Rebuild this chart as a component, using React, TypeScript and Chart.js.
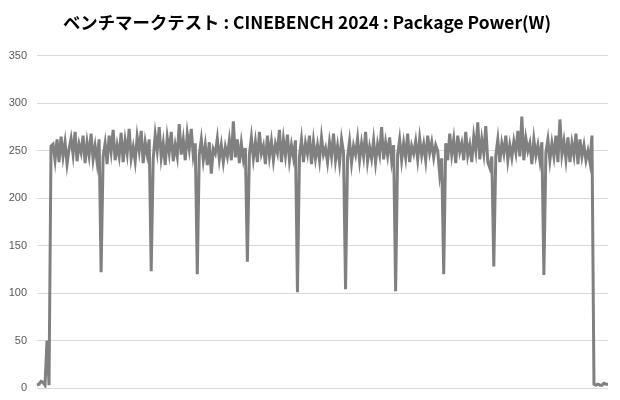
import React, { useEffect, useRef } from "react";
import { Chart, registerables } from "chart.js";

Chart.register(...registerables);

const chartTitle = "ベンチマークテスト : CINEBENCH 2024 : Package Power(W)";
const yTicks = [0, 50, 100, 150, 200, 250, 300, 350];

// Package power samples (W), in order
const startup = [3, 4, 7, 6, 3, 50, 3, 255];
const run01 = [257, 240, 262, 238, 265, 244, 259, 236, 252, 263, 246, 270, 239, 257, 248, 266, 237, 259, 245, 268, 241, 255, 238, 262, 122];
const run02 = [244, 258, 236, 266, 249, 272, 240, 256, 244, 269, 238, 261, 247, 273, 242, 254, 239, 265, 250, 271, 237, 259, 246, 262, 123];
const run03 = [241, 267, 250, 275, 243, 258, 235, 264, 248, 270, 239, 256, 244, 278, 246, 262, 240, 268, 252, 273, 245, 258, 120];
const run04 = [246, 262, 240, 256, 235, 259, 226, 252, 247, 263, 241, 256, 238, 254, 244, 261, 240, 281, 243, 262, 237, 258, 241, 253, 133];
const run05 = [246, 264, 242, 259, 238, 270, 247, 255, 236, 266, 244, 260, 240, 257, 248, 272, 238, 262, 245, 267, 240, 256, 243, 261, 101];
const run06 = [244, 262, 238, 258, 247, 266, 236, 260, 242, 256, 240, 264, 246, 253, 238, 259, 244, 268, 240, 255, 237, 262, 248, 104];
const run07 = [243, 260, 237, 255, 246, 263, 240, 258, 244, 270, 239, 254, 242, 261, 238, 257, 246, 275, 241, 259, 245, 264, 240, 256, 102];
const run08 = [246, 262, 240, 258, 243, 268, 238, 255, 247, 260, 241, 263, 245, 257, 240, 266, 248, 259, 243, 256, 250, 225, 242, 120];
const run09 = [258, 240, 268, 246, 262, 237, 266, 249, 258, 240, 270, 245, 256, 238, 265, 250, 280, 241, 262, 247, 276, 238, 232, 244, 128];
const run10 = [245, 262, 238, 258, 247, 266, 240, 256, 243, 260, 248, 271, 244, 286, 240, 263, 250, 258, 236, 262, 245, 256, 240, 259, 119];
const run11 = [248, 262, 240, 258, 244, 266, 238, 283, 246, 260, 241, 264, 238, 258, 245, 268, 236, 262, 244, 256, 240, 250, 238, 266];
const cooldown = [4, 3, 4, 3, 3, 5, 4, 4];

const powerSeries = [
  ...startup, ...run01, ...run02, ...run03, ...run04, ...run05, ...run06,
  ...run07, ...run08, ...run09, ...run10, ...run11, ...cooldown,
];
const sampleLabels = powerSeries.map((_, i) => String(i + 1));

export default function App() {
  const ref = useRef<HTMLCanvasElement | null>(null);

  useEffect(() => {
    document.body.style.margin = "0";
    if (!ref.current) return;
    const chart = new Chart(ref.current, {
      type: "line",
      data: {
        labels: sampleLabels,
        datasets: [
          {
            label: "Package Power(W)",
            data: powerSeries,
            borderColor: "#808080",
            backgroundColor: "#808080",
            borderWidth: 3,
            pointRadius: 0,
            tension: 0,
            fill: false,
          },
        ],
      },
      options: {
        animation: false,
        responsive: false,
        layout: { padding: { left: 6, right: 12, top: 0, bottom: 0 } },
        plugins: {
          legend: { display: false },
          tooltip: { enabled: false },
          title: {
            display: true,
            text: chartTitle,
            color: "#000000",
            font: { family: "'Noto Sans CJK JP', 'Noto Sans', sans-serif", size: 17.4, weight: "bold" },
            padding: { top: 12, bottom: 23 },
          },
        },
        scales: {
          x: {
            type: "category",
            offset: false,
            display: false,
          },
          y: {
            min: 0,
            max: 350,
            afterBuildTicks: (axis: any) => {
              axis.ticks = yTicks.map((v) => ({ value: v }));
            },
            afterFit: (axis: any) => {
              axis.width = 31;
              axis.paddingBottom = 12;
              axis.paddingTop = 6;
            },
            border: { display: false },
            grid: { color: "#d9d9d9", lineWidth: 1, drawTicks: false, tickLength: 0 },
            ticks: {
              color: "#595959",
              padding: 10,
              font: { family: "'Liberation Sans', sans-serif", size: 11 },
            },
          },
        },
      },
    });
    return () => chart.destroy();
  }, []);

  return (
    <div style={{ width: 620, height: 400 }}>
      <canvas ref={ref} width={620} height={400} />
    </div>
  );
}
